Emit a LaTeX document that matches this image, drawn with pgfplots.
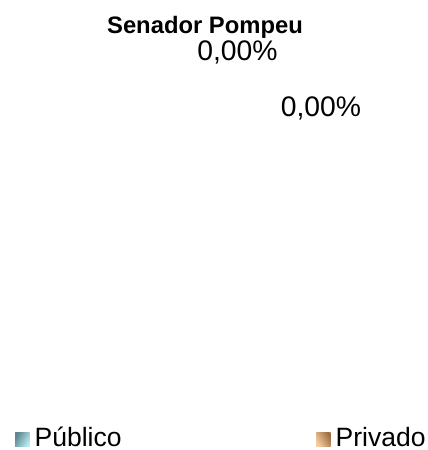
\documentclass[border=0pt]{standalone}
\usepackage{pgfplots}
\pgfplotsset{compat=1.18}
\usepackage{fontspec}
\setmainfont{Liberation Sans}
\definecolor{pubdark}{RGB}{95,135,145}
\definecolor{publight}{RGB}{185,235,240}
\definecolor{privlight}{RGB}{245,205,160}
\definecolor{privdark}{RGB}{160,110,65}
\begin{document}
\begin{tikzpicture}
\begin{axis}[
  scale only axis, width=428pt, height=450pt,
  xmin=0, xmax=428, ymin=0, ymax=450, y dir=reverse,
  hide axis, clip=false,
]
% pie data: Público 0, Privado 0 -> nothing visible
\addplot[draw=none, forget plot] coordinates {(205,200) (205,200)};
\path[draw=none] (rel axis cs:0,0) rectangle (rel axis cs:1,1);
\node[anchor=base, inner sep=0pt, font=\fontsize{23.8}{27}\selectfont\bfseries] at (axis cs:205,33.3) {Senador Pompeu};
\node[anchor=base, inner sep=0pt, font=\fontsize{28.3}{32}\selectfont] at (axis cs:237.5,60) {0,00\%};
\node[anchor=base, inner sep=0pt, font=\fontsize{28.3}{32}\selectfont] at (axis cs:321,116.7) {0,00\%};
\shade[left color=pubdark, right color=publight, shading angle=60] (axis cs:15,432.5) rectangle (axis cs:29.5,446.5);
\node[anchor=base west, inner sep=0pt, font=\fontsize{26.5}{30}\selectfont] at (axis cs:34.5,446.7) {Público};
\shade[left color=privlight, right color=privdark, shading angle=120] (axis cs:316,432.5) rectangle (axis cs:330.5,446.5);
\node[anchor=base west, inner sep=0pt, font=\fontsize{26.5}{30}\selectfont] at (axis cs:335.5,446.7) {Privado};
\end{axis}
\end{tikzpicture}
\end{document}
